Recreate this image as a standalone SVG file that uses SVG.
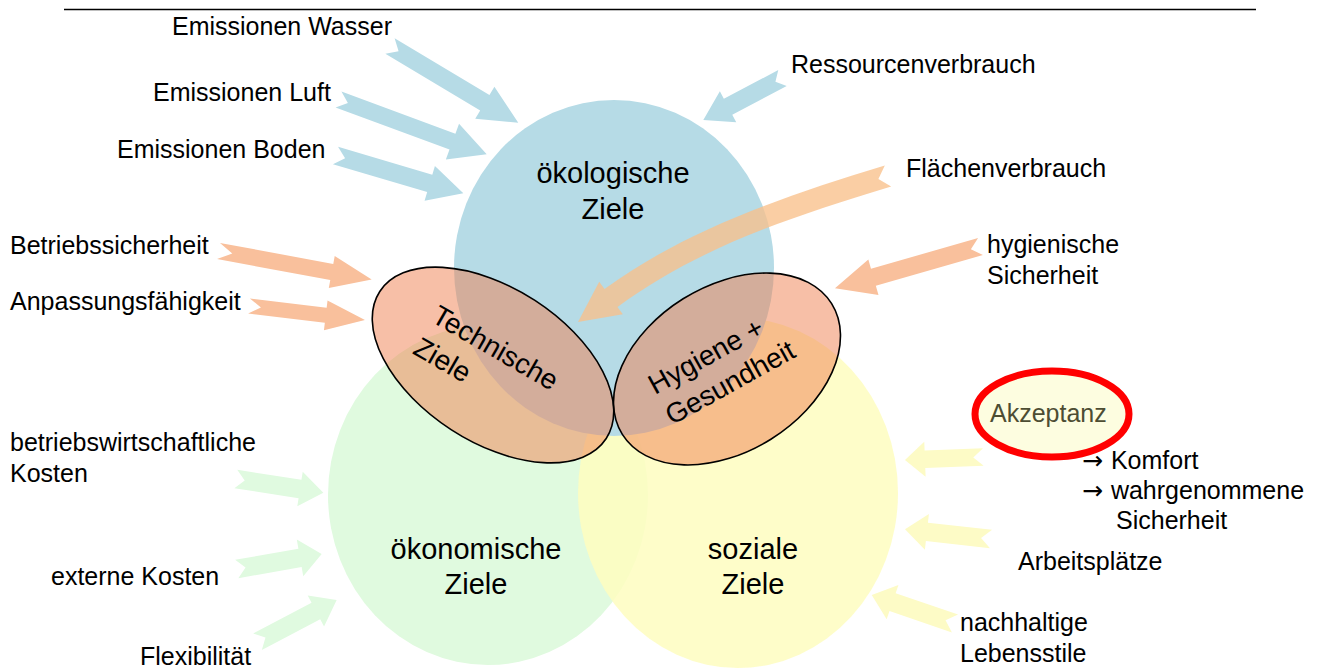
<svg xmlns="http://www.w3.org/2000/svg" width="1322" height="670" viewBox="0 0 1322 670">
<style>
text{font-family:"Liberation Sans",Arial,sans-serif;fill:#000}
.lbl{font-size:25px}
.big{font-size:29px}
.rot{font-size:28px}
.arr{font-family:"DejaVu Sans",sans-serif}
.blue{fill:#b6dbe6}
.orng{fill:#f9c09c}
.grn{fill:#e0fae0}
.yel{fill:#fdfbc6}
.lobe{fill:#f08050;fill-opacity:0.5;stroke:#000;stroke-width:1.6}
</style>
<rect width="1322" height="670" fill="#fff"/>
<line x1="64" y1="9.5" x2="1256" y2="9.5" stroke="#000" stroke-width="1.6"/>

<g id="circle-oekonomisch"><ellipse cx="488" cy="495" rx="160" ry="170" fill="#e0fadf"/></g>
<g id="circle-sozial"><ellipse cx="738" cy="493" rx="160" ry="175" fill="#fefdc0" fill-opacity="0.85"/></g>
<g id="circle-oekologisch"><ellipse cx="614" cy="268" rx="160" ry="168" fill="#b6dbe6"/></g>

<g id="connectors">
<path class="blue" transform="translate(390,46) rotate(30.9)" d="M0,-9 L110.5,-9 L110.5,-18.7 L149.5,0 L110.5,18.7 L110.5,9 L0,9 L10,0Z"/>
<path class="blue" transform="translate(338.5,99.5) rotate(20.3)" d="M0,-8.5 L121.5,-8.5 L121.5,-19 L158,0 L121.5,19 L121.5,8.5 L0,8.5 L10,0Z"/>
<path class="blue" transform="translate(335.5,155.5) rotate(16.5)" d="M0,-9 L98.3,-9 L98.3,-18.2 L133.3,0 L98.3,18.2 L98.3,9 L0,9 L10,0Z"/>
<path class="blue" transform="translate(782.5,78) rotate(152.1)" d="M0,-9 L61.6,-9 L61.6,-17.5 L89.6,0 L61.6,17.5 L61.6,9 L0,9 L8,0Z"/>
<path class="orng" transform="translate(218.5,251) rotate(10.5)" d="M0,-8.2 L115.2,-8.2 L115.2,-16.2 L155.8,0 L115.2,16.2 L115.2,8.2 L0,8.2 L14,0Z"/>
<path class="orng" transform="translate(249,306) rotate(6.9)" d="M0,-7.5 L77.3,-7.5 L77.3,-15 L116.8,0 L77.3,15 L77.3,7.5 L0,7.5 L12,0Z"/>
<path class="orng" transform="translate(980.5,246.5) rotate(164)" d="M0,-8.8 L111.4,-8.8 L111.4,-18.4 L151.4,0 L111.4,18.4 L111.4,8.8 L0,8.8 L10,0Z"/>
<path fill="#f9c08a" fill-opacity="0.78" d="M884.8,165.5 C779.8,197.5 685.5,230.1 604.5,289.1 L599.2,281.8 L578,322 L622.8,314.2 L617.5,306.9 C698.5,247.9 786.2,218.5 891.2,186.5 L878.4,178.9 Z"/>
<path class="yel" transform="translate(983.3,457) rotate(177.8)" d="M0,-8.8 L58.4,-8.8 L58.4,-17.5 L78.4,0 L58.4,17.5 L58.4,8.8 L0,8.8 L10,0Z"/>
<path class="yel" transform="translate(991,539) rotate(186.4)" d="M0,-9.2 L64.5,-9.2 L64.5,-18 L86.5,0 L64.5,18 L64.5,9.2 L0,9.2 L10,0Z"/>
<path class="yel" transform="translate(955,623.5) rotate(198.9)" d="M0,-9.5 L66,-9.5 L66,-18.2 L88,0 L66,18.2 L66,9.5 L0,9.5 L10,0Z"/>
<path class="grn" transform="translate(235.8,479) rotate(8.9)" d="M0,-9.3 L65,-9.3 L65,-17.5 L88.6,0 L65,17.5 L65,9.3 L0,9.3 L9,0Z"/>
<path class="grn" transform="translate(236.7,569) rotate(-10)" d="M0,-9.3 L64.3,-9.3 L64.3,-18.6 L86.3,0 L64.3,18.6 L64.3,9.3 L0,9.3 L9,0Z"/>
<path class="grn" transform="translate(257.5,641.7) rotate(-27.8)" d="M0,-9.3 L66,-9.3 L66,-17.5 L89.5,0 L66,17.5 L66,9.3 L0,9.3 L9,0Z"/>
</g>

<g id="lobe-technisch"><ellipse class="lobe" cx="493" cy="365" rx="135" ry="77" transform="rotate(33 493 365)"/>
<text class="rot" transform="translate(430,321) rotate(30)"><tspan x="0" y="0">Technische</tspan><tspan x="0" y="37">Ziele</tspan></text></g>
<g id="lobe-hygiene"><ellipse class="lobe" cx="727" cy="369" rx="123.4" ry="82.8" transform="rotate(-32 727 369)"/>
<text class="rot" transform="translate(655,395) rotate(-29)"><tspan x="0" y="0">Hygiene +</tspan><tspan x="0" y="35">Gesundheit</tspan></text></g>

<g id="label-oekologisch"><text class="big" text-anchor="middle" x="613" y="183">ökologische<tspan x="613" y="219">Ziele</tspan></text></g>
<g id="label-oekonomisch"><text class="big" text-anchor="middle" x="476" y="559">ökonomische<tspan x="476" y="594">Ziele</tspan></text></g>
<g id="label-sozial"><text class="big" text-anchor="middle" x="753" y="559">soziale<tspan x="753" y="594">Ziele</tspan></text></g>

<g id="akzeptanz"><ellipse cx="1052" cy="414" rx="77" ry="43" fill="#fdfde0" stroke="#ff0000" stroke-width="7"/>
<text class="lbl" x="990" y="422" style="fill:#4d4d33">Akzeptanz</text></g>

<g id="labels">
<text class="lbl" x="172" y="35">Emissionen Wasser</text>
<text class="lbl" x="153" y="101">Emissionen Luft</text>
<text class="lbl" x="117" y="158">Emissionen Boden</text>
<text class="lbl" x="791" y="73">Ressourcenverbrauch</text>
<text class="lbl" x="906" y="177">Flächenverbrauch</text>
<text class="lbl" x="10" y="254">Betriebssicherheit</text>
<text class="lbl" x="10" y="310">Anpassungsfähigkeit</text>
<text class="lbl" x="987" y="253">hygienische<tspan x="987" y="284">Sicherheit</tspan></text>
<text class="lbl" x="10" y="451">betriebswirtschaftliche<tspan x="10" y="482">Kosten</tspan></text>
<text class="lbl" x="51" y="585">externe Kosten</text>
<text class="lbl" x="140" y="665">Flexibilität</text>
<text class="lbl" x="1082" y="469"><tspan class="arr">→ </tspan>Komfort</text>
<text class="lbl" x="1082" y="499"><tspan class="arr">→ </tspan>wahrgenommene</text>
<text class="lbl" x="1116" y="529">Sicherheit</text>
<text class="lbl" x="1018" y="570">Arbeitsplätze</text>
<text class="lbl" x="960" y="631">nachhaltige<tspan x="960" y="662">Lebensstile</tspan></text>
</g>
</svg>
